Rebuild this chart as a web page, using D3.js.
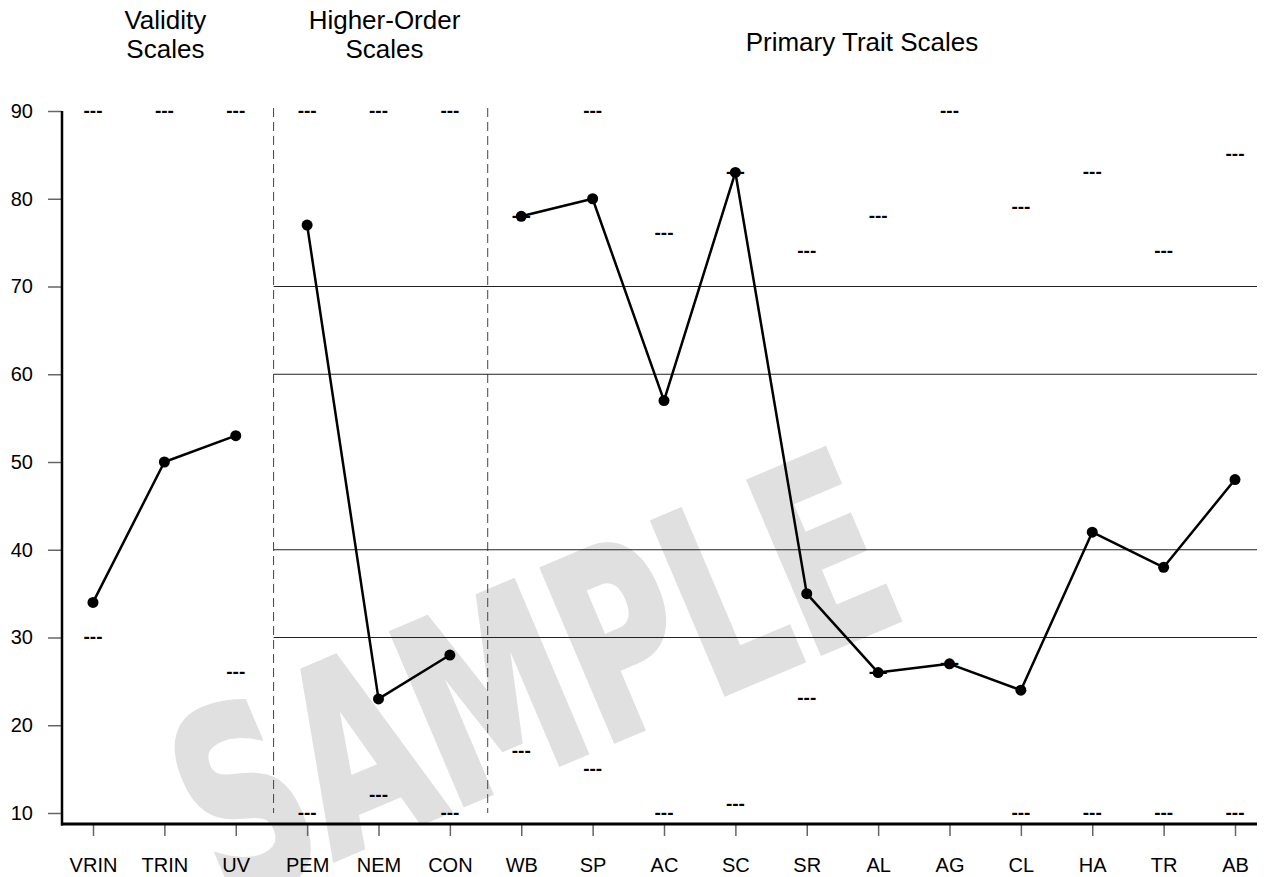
<!DOCTYPE html>
<html>
<head>
<meta charset="utf-8">
<script src="https://cdn.jsdelivr.net/npm/d3@7"></script>
<style>
  html, body { margin: 0; padding: 0; background: #fff; }
  svg { display: block; font-family: "Liberation Sans", Arial, sans-serif; }
</style>
</head>
<body>
<svg id="chart" width="1265" height="877"></svg>
<script>
// ---- data ----
const categories = ["VRIN","TRIN","UV","PEM","NEM","CON","WB","SP","AC","SC","SR","AL","AG","CL","HA","TR","AB"];
const groupNames = ["Validity Scales", "Higher-Order Scales", "Primary Trait Scales"];
const groupOf = [0,0,0,1,1,1,2,2,2,2,2,2,2,2,2,2,2];
const scores = [34,50,53,77,23,28,78,80,57,83,35,26,27,24,42,38,48];
const upperMarks = [90,90,90,90,90,90,78,90,76,83,74,78,90,79,83,74,85];
const lowerMarks = [30,null,26,10,12,10,17,15,10,11,23,26,27,10,10,10,10];
const yTicks = [10,20,30,40,50,60,70,80,90];
const refLines = [30,40,60,70];

// ---- layout ----
const svg = d3.select("#chart");
const x = d3.scalePoint().domain(categories).range([93, 1235]);
const xi = d3.scaleLinear().domain([0, categories.length - 1]).range([93, 1235]);
const y = d3.scaleLinear().domain([10, 90]).range([813, 111]);
const axisX = 62, axisY = 824, rightX = 1257;
const FONT = "'Liberation Sans', Arial, sans-serif";

// watermark
svg.append("text")
  .attr("transform", "translate(532,676) rotate(-23)")
  .attr("x", 0).attr("y", 92)
  .attr("text-anchor", "middle")
  .attr("font-family", "'DejaVu Sans Condensed', 'DejaVu Sans', sans-serif")
  .attr("font-weight", "bold")
  .attr("font-size", 256)
  .attr("textLength", 745)
  .attr("lengthAdjust", "spacingAndGlyphs")
  .attr("fill", "#e0e0e0")
  .attr("stroke", "#e0e0e0")
  .attr("stroke-width", 5)
  .attr("stroke-linejoin", "miter")
  .text("SAMPLE");

// group headers
const headers = [
  { lines: ["Validity", "Scales"], cx: x("TRIN") + 1 },
  { lines: ["Higher-Order", "Scales"], cx: x("NEM") + 6 },
  { lines: ["Primary Trait Scales"], cx: 862 }
];
headers.forEach(h => {
  const t = svg.append("text").attr("text-anchor", "middle").attr("font-size", 26)
    .attr("font-family", FONT).attr("fill", "#000");
  if (h.lines.length === 2) {
    t.append("tspan").attr("x", h.cx).attr("y", 29).text(h.lines[0]);
    t.append("tspan").attr("x", h.cx).attr("y", 58).text(h.lines[1]);
  } else {
    t.append("tspan").attr("x", h.cx).attr("y", 51).text(h.lines[0]);
  }
});

// separators
const sepIdx = [2.53, 5.53];
const sepX = sepIdx.map(v => xi(v));
svg.selectAll("line.sep").data(sepX).enter().append("line")
  .attr("x1", d => d).attr("x2", d => d)
  .attr("y1", 108).attr("y2", y(10))
  .attr("stroke", "#444").attr("stroke-width", 1)
  .attr("stroke-dasharray", "9,5");

// reference lines
svg.selectAll("line.ref").data(refLines).enter().append("line")
  .attr("x1", sepX[0]).attr("x2", rightX)
  .attr("y1", d => y(d)).attr("y2", d => y(d))
  .attr("stroke", "#222").attr("stroke-width", 1);

// y axis
const yAxis = d3.axisLeft(y).tickValues(yTicks).tickSize(14).tickPadding(15).tickFormat(d3.format("d"));
const gy = svg.append("g").attr("transform", `translate(${axisX},0)`).call(yAxis);
gy.select(".domain").remove();
gy.selectAll(".tick line").attr("stroke", "#666").attr("stroke-width", 1.5);
gy.selectAll(".tick text").attr("font-size", 20).attr("fill", "#000").attr("font-family", FONT);
svg.append("line").attr("x1", axisX).attr("x2", axisX)
  .attr("y1", y(90)).attr("y2", axisY + 1.5)
  .attr("stroke", "#000").attr("stroke-width", 2.5);

// x axis
const xAxis = d3.axisBottom(x).tickSize(12).tickPadding(22);
const gx = svg.append("g").attr("transform", `translate(0,${axisY})`).call(xAxis);
gx.select(".domain").remove();
gx.selectAll(".tick line").attr("stroke", "#666").attr("stroke-width", 1.5);
gx.selectAll(".tick text").attr("font-size", 20).attr("fill", "#000").attr("font-family", FONT);
svg.append("line").attr("x1", axisX - 1).attr("x2", rightX)
  .attr("y1", axisY).attr("y2", axisY)
  .attr("stroke", "#000").attr("stroke-width", 3);

// markers "---"
function marks(arr) {
  return categories.map((c, i) => ({ c, v: arr[i] })).filter(d => d.v != null);
}
svg.selectAll("text.mk").data(marks(upperMarks).concat(marks(lowerMarks))).enter().append("text")
  .attr("x", d => x(d.c)).attr("y", d => y(d.v) + 5.5)
  .attr("text-anchor", "middle")
  .attr("font-size", 19).attr("font-weight", "bold")
  .attr("font-family", FONT)
  .attr("fill", "#000")
  .text("---");

// lines per group
const pts = categories.map((c, i) => ({ c, v: scores[i], g: groupOf[i] }));
const line = d3.line().x(d => x(d.c)).y(d => y(d.v));
d3.range(groupNames.length).forEach(g => {
  svg.append("path")
    .datum(pts.filter(p => p.g === g))
    .attr("d", line)
    .attr("fill", "none").attr("stroke", "#000").attr("stroke-width", 2.5)
    .attr("stroke-linejoin", "round");
});
svg.selectAll("circle.pt").data(pts).enter().append("circle")
  .attr("cx", d => x(d.c)).attr("cy", d => y(d.v)).attr("r", 5.5)
  .attr("fill", "#000");
</script>
</body>
</html>
